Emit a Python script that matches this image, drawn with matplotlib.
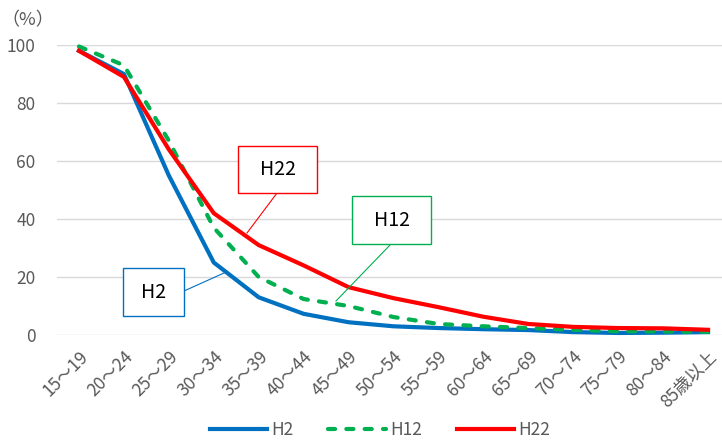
import matplotlib.pyplot as plt
from matplotlib.patches import Rectangle
from matplotlib.lines import Line2D

plt.rcParams['font.family'] = ['Noto Sans CJK JP', 'DejaVu Sans']

# age groups
ages = ['15～19', '20～24', '25～29', '30～34', '35～39', '40～44', '45～49',
        '50～54', '55～59', '60～64', '65～69', '70～74', '75～79', '80～84', '85歳以上']

# rates (%) per survey year
h2 = [98, 90, 55, 25, 13, 7.3, 4.4, 3.0, 2.4, 2.0, 1.7, 1.0, 0.7, 0.8, 1.0]
h12 = [99.5, 93, 67, 37, 20, 12.4, 10, 6.2, 3.8, 3.0, 2.4, 1.8, 1.3, 1.2, 1.1]
h22 = [98, 89, 64, 42, 31, 24, 16.5, 12.7, 9.6, 6.3, 3.8, 2.8, 2.4, 2.3, 1.8]

blue = '#0070C0'
green = '#00B050'
red = '#FF0000'
gray = '#595959'

W, H = 722, 441
fig = plt.figure(figsize=(W / 100, H / 100), dpi=100)
ax = fig.add_axes([56.5 / W, 106 / H, 674 / W, 290 / H])

x = list(range(len(ages)))
ax.plot(x, h2, color=blue, lw=3.0, label='H2', clip_on=False, solid_joinstyle='round')
ax.plot(x, h12, color=green, lw=3.0, ls=(0, (1.7, 2.7)), dash_capstyle='round',
        label='H12', clip_on=False)
ax.plot(x, h22, color=red, lw=3.0, label='H22', clip_on=False, solid_joinstyle='round')

ax.set_xlim(-0.5, len(ages) - 0.5)
ax.set_ylim(0, 100)
ax.set_yticks([0, 20, 40, 60, 80, 100])
ax.set_xticks(x)
ax.set_xticklabels(ages, rotation=45, ha='right', rotation_mode='anchor')
ax.tick_params(axis='both', length=0, labelsize=12.5, colors=gray)
ax.tick_params(axis='y', pad=15)
ax.tick_params(axis='x', pad=9)
ax.grid(axis='y', color='#D9D9D9', lw=1)
ax.set_axisbelow(True)
for s in ax.spines.values():
    s.set_visible(False)

fig.text(1 / W, 1 - 20 / H, '（%）', fontsize=13, color=gray, va='center')


# callout boxes, given in pixels from the top-left corner
def px(x0, y0):
    return x0 / W, 1 - y0 / H


def callout(text, color, box, start, tip):
    l, t, r, b = box
    fig.patches.append(Rectangle(px(l, b), (r - l) / W, (b - t) / H, transform=fig.transFigure,
                                 fc='white', ec=color, lw=1, zorder=5))
    cx, cy = px((l + r) / 2, (t + b) / 2)
    fig.text(cx, cy, text, fontsize=14, ha='center', va='center', zorder=6)
    (x0, y0), (x1, y1) = px(*start), px(*tip)
    fig.lines.append(Line2D([x0, x1], [y0, y1], transform=fig.transFigure, color=color,
                            lw=0.8, zorder=4))


callout('H22', red, (238, 146, 317, 193), (277, 193), (247, 233))
callout('H12', green, (352, 196, 431, 244), (391, 244), (336, 301))
callout('H2', blue, (123, 268, 184, 316), (184, 291), (224, 273))

ax.legend(loc='center', bbox_to_anchor=(380 / W, 1 - 430 / H), bbox_transform=fig.transFigure,
          ncol=3, frameon=False, fontsize=12.5, labelcolor=gray, handlelength=3.3,
          columnspacing=2.0, handletextpad=0.25, borderaxespad=0)

fig.savefig('out.png', dpi=100)
